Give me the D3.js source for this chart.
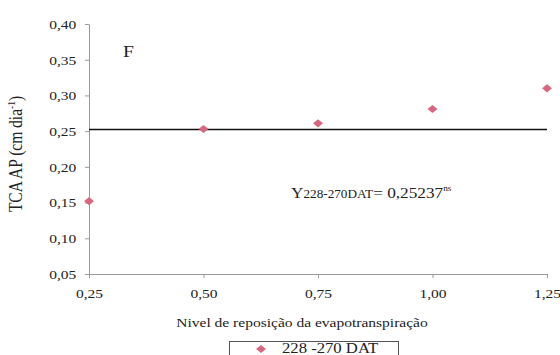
<!DOCTYPE html>
<html>
    <head>
        <meta charset="utf-8"/>
        <script src="https://cdnjs.cloudflare.com/ajax/libs/d3/7.8.5/d3.min.js"></script>
        <style>
            body { margin: 0; background: #fff; }
        </style>
    </head>
    <body>
        <script>
            // nivel de reposicao (x) and TCA AP values
            let niveis = [0.25, 0.50, 0.75, 1.00, 1.25];
            let tca = [0.152, 0.253, 0.261, 0.281, 0.310];
            let yTicks = [0.05, 0.10, 0.15, 0.20, 0.25, 0.30, 0.35, 0.40];
            let mediaAjuste = 0.25237;
            let serieNome = "228 -270 DAT";

            let width = 560, height = 355;
            let margin = ({top: 24, right: 13, bottom: 81, left: 89});
            let font = "'Liberation Serif', 'Times New Roman', serif";
            let sx = 1.15; // the scan is a bit stretched sideways
            let pink = "#d9657f";

            let x = d3.scaleLinear()
                    .domain([0.25, 1.25])
                    .range([margin.left, width - margin.right]);
            let y = d3.scaleLinear()
                    .domain([0.05, 0.40])
                    .range([height - margin.bottom, margin.top]);

            let fmt = d => d.toFixed(2).replace(".", ",");

            const svg = d3.select("body").append("svg")
                .attr("width", width)
                .attr("height", height)
                .style("font-family", font);

            let styleAxis = g => {
                g.attr("font-family", null);
                g.select(".domain").attr("stroke", "#9a9a9a");
                g.selectAll(".tick line").attr("stroke", "#9a9a9a");
                g.selectAll(".tick text")
                    .attr("fill", "#222")
                    .style("font-family", font)
                    .style("font-size", "13.5px")
                    .attr("transform", `scale(${sx},1)`);
            };

            svg.append("g")
                .attr("transform", `translate(0,${y(0.05)})`)
                .call(d3.axisBottom(x).tickValues(niveis).tickFormat(fmt)
                    .tickSize(4).tickSizeOuter(0).tickPadding(10))
                .call(styleAxis);

            svg.append("g")
                .attr("transform", `translate(${x(0.25)},0)`)
                .call(d3.axisLeft(y).tickValues(yTicks).tickFormat(fmt)
                    .tickSize(4).tickSizeOuter(0).tickPadding(7))
                .call(styleAxis);

            // fitted mean line
            svg.append("line")
                .attr("x1", x(0.25))
                .attr("x2", x(1.25))
                .attr("y1", y(mediaAjuste))
                .attr("y2", y(mediaAjuste))
                .attr("stroke", "#111")
                .attr("stroke-width", 1.5);

            let diamond = d3.symbol(d3.symbolSquare, 34);

            svg.append("g")
                .selectAll("path")
                .data(niveis)
                .join("path")
                .attr("d", diamond)
                .attr("fill", pink)
                .attr("transform", (d, i) => `translate(${x(d)},${y(tca[i])}) scale(1.2,1) rotate(45)`);

            // texts
            let label = (px, py, size) => svg.append("text")
                .attr("transform", `translate(${px},${py}) scale(${sx},1)`)
                .attr("fill", "#222")
                .style("font-size", size + "px");

            label(123, 57, 17).text("F");

            let eq = label(291, 198, 15);
            eq.append("tspan").text("Y");
            eq.append("tspan").style("font-size", "11.5px").text("228-270DAT");
            eq.append("tspan").text("= 0,25237");
            eq.append("tspan").style("font-size", "8px").attr("dy", -7).text("ns");

            label(302, 327, 13.5)
                .attr("text-anchor", "middle")
                .text("Nivel de reposição da evapotranspiração");

            let yt = svg.append("text")
                .attr("transform", `translate(22,154) rotate(-90) scale(1,1.2)`)
                .attr("text-anchor", "middle")
                .attr("fill", "#222")
                .style("font-size", "15.5px");
            yt.append("tspan").text("TCA AP (cm dia");
            yt.append("tspan").style("font-size", "9.5px").attr("dy", -6).text("-1");
            yt.append("tspan").attr("dy", 6).text(")");

            // legend
            svg.append("rect")
                .attr("x", 229.5)
                .attr("y", 341.5)
                .attr("width", 169)
                .attr("height", 24)
                .attr("fill", "none")
                .attr("stroke", "#555");
            svg.append("path")
                .attr("d", diamond)
                .attr("fill", pink)
                .attr("transform", `translate(261,349) scale(1.2,1) rotate(45)`);
            label(282, 353, 14.5).text(serieNome);
        </script>
    </body>
</html>
